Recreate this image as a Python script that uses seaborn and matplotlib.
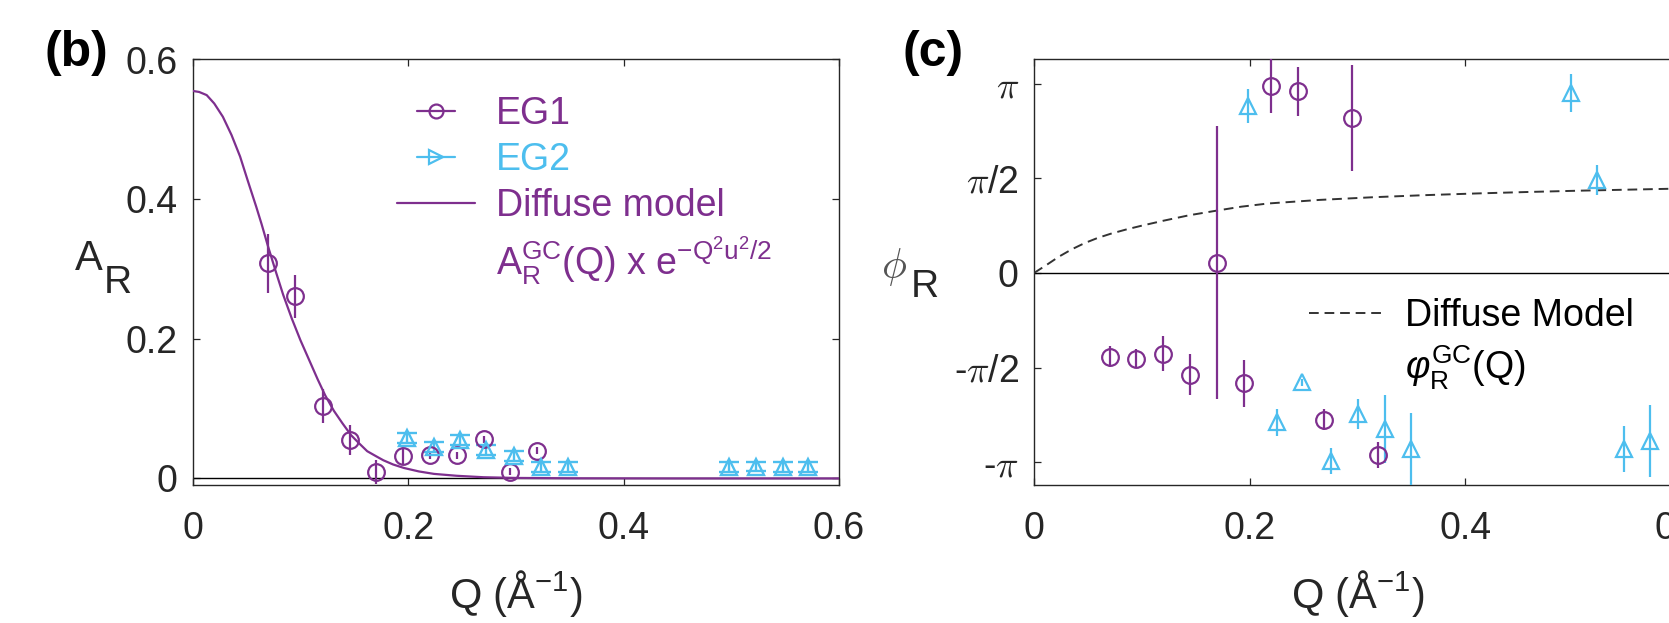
import matplotlib as mpl
mpl.use('Agg')
import matplotlib.pyplot as plt
import numpy as np
import seaborn as sns
from matplotlib.lines import Line2D
from matplotlib.legend_handler import HandlerLine2D

# ---- panel (b): amplitude A_R vs Q ----
q_eg1_b = [0.0701, 0.0952, 0.1209, 0.1456, 0.1706, 0.1955, 0.2202, 0.2450, 0.2704, 0.2950, 0.3197]
a_eg1 = [0.308, 0.261, 0.104, 0.055, 0.0095, 0.032, 0.0334, 0.0334, 0.056, 0.0096, 0.0397]
a_eg1_err = [0.042, 0.031, 0.024, 0.021, 0.017, 0.013, 0.006, 0.005, 0.005, 0.005, 0.005]

q_eg2_b = [0.1985, 0.2236, 0.2484, 0.2727, 0.2981, 0.3237, 0.3485, 0.4975, 0.5226, 0.5479, 0.5711]
a_eg2 = [0.0574, 0.0454, 0.0550, 0.0407, 0.0320, 0.0168, 0.0163, 0.0168, 0.0170, 0.0165, 0.0168]
a_eg2_err = [0.007, 0.007, 0.007, 0.007, 0.007, 0.007, 0.007, 0.007, 0.007, 0.007, 0.007]

q_model_b = [0, 0.006, 0.013, 0.020, 0.028, 0.036, 0.044, 0.051, 0.059, 0.064, 0.070, 0.077,
             0.084, 0.092, 0.100, 0.108, 0.116, 0.123, 0.131, 0.139, 0.147, 0.154, 0.162,
             0.170, 0.177, 0.186, 0.196, 0.210, 0.224, 0.245, 0.270, 0.300, 0.350, 0.450, 0.600]
a_model_b = [0.555, 0.5535, 0.549, 0.537, 0.518, 0.492, 0.461, 0.427, 0.389, 0.364, 0.332, 0.297,
             0.263, 0.229, 0.198, 0.170, 0.142, 0.119, 0.097, 0.079, 0.062, 0.051, 0.039,
             0.032, 0.026, 0.020, 0.015, 0.010, 0.0065, 0.0038, 0.0017, 0.0007, 0.0002, 0.0, 0.0]

# ---- panel (c): phase phi_R vs Q (values in units of pi) ----
q_eg1_c = [0.0705, 0.0950, 0.1196, 0.1449, 0.1700, 0.1947, 0.2197, 0.2446, 0.2690, 0.2949, 0.3190]
phi_eg1 = [-0.442, -0.454, -0.427, -0.537, 0.055, -0.583, 0.990, 0.960, -0.776, 0.819, -0.961]
phi_eg1_err = [0.055, 0.05, 0.093, 0.11, 0.72, 0.124, 0.145, 0.128, 0.055, 0.278, 0.07]

q_eg2_c = [0.1987, 0.2253, 0.2485, 0.2757, 0.3006, 0.3256, 0.3500, 0.4980, 0.5225, 0.5473, 0.5718]
phi_eg2 = [0.880, -0.790, -0.578, -0.993, -0.746, -0.825, -0.930, 0.951, 0.491, -0.931, -0.887]
phi_eg2_err = [0.09, 0.07, 0.02, 0.07, 0.08, 0.18, 0.19, 0.10, 0.08, 0.12, 0.19]

q_model_c = [0, 0.012, 0.023, 0.035, 0.047, 0.059, 0.071, 0.085, 0.100, 0.120, 0.144,
             0.168, 0.192, 0.217, 0.265, 0.314, 0.362, 0.410, 0.459, 0.508, 0.550, 0.600]
phi_model_c = [0, 0.044, 0.086, 0.125, 0.158, 0.185, 0.207, 0.229, 0.250, 0.276, 0.305,
               0.328, 0.350, 0.367, 0.386, 0.400, 0.411, 0.420, 0.428, 0.435, 0.440, 0.446]

q_ticks = [0, 0.2, 0.4, 0.6]
q_ticklabels = ['0', '0.2', '0.4', '0.6']
a_ticks = [0, 0.2, 0.4, 0.6]
a_ticklabels = ['0', '0.2', '0.4', '0.6']
phi_ticks_pi = [-1, -0.5, 0, 0.5, 1]
phi_ticklabels = [r'-$\pi$', r'-$\pi$/2', '0', r'$\pi$/2', r'$\pi$']

PURPLE = '#7E2F8E'
CYAN = '#4DBEEE'
TXT = '#262626'
W, H = 1669, 623


class ShortHandler(HandlerLine2D):
    # legend glyph only half as long as the line handle, centred
    def create_artists(self, legend, orig_handle, xdescent, ydescent, width, height, fontsize, trans):
        short = width * 0.48
        return super().create_artists(legend, orig_handle, xdescent - (width - short) / 2,
                                      ydescent, short, height, fontsize, trans)


def style_axes(ax):
    for s in ax.spines.values():
        s.set_color(TXT)
        s.set_linewidth(1.0)
        s.set_visible(True)
    ax.tick_params(direction='in', length=5, width=0.9, colors=TXT, labelsize=27,
                   top=True, right=True, bottom=True, left=True)
    ax.tick_params(axis='x', pad=19)
    ax.tick_params(axis='y', pad=11)


def main():
    sns.set_theme(style='white')
    plt.rcParams['font.family'] = ['Liberation Sans', 'DejaVu Sans']
    plt.rcParams['mathtext.fontset'] = 'custom'
    plt.rcParams['mathtext.rm'] = 'Liberation Sans'
    plt.rcParams['mathtext.it'] = 'Liberation Sans:italic'
    plt.rcParams['mathtext.bf'] = 'Liberation Sans:bold'

    fig = plt.figure(figsize=(W / 100, H / 100), dpi=100)
    bottom = (H - 484.5) / H
    height = 425.0 / H
    ax_b = fig.add_axes([192.7 / W, bottom, 646.3 / W, height])
    ax_c = fig.add_axes([1034.1 / W, bottom, 646.6 / W, height])

    # ---------- (b) ----------
    ax_b.axhline(0, color='black', lw=1.0, zorder=1)
    sns.lineplot(x=q_model_b, y=a_model_b, ax=ax_b, color=PURPLE, lw=1.6, zorder=3)
    ax_b.errorbar(q_eg1_b, a_eg1, yerr=a_eg1_err, fmt='o', color=PURPLE, mfc='none',
                  ms=12, mew=1.6, elinewidth=1.6, capsize=0, zorder=4)
    ax_b.errorbar(q_eg2_b, a_eg2, yerr=a_eg2_err, fmt='^', color=CYAN, mfc='none',
                  ms=11, mew=1.7, elinewidth=1.7, capsize=7, capthick=1.7, zorder=4)
    ax_b.set_xlim(0, 0.6)
    ax_b.set_ylim(-0.0087, 0.6)
    ax_b.set_xticks(q_ticks)
    ax_b.set_xticklabels(q_ticklabels)
    ax_b.set_yticks(a_ticks)
    ax_b.set_yticklabels(a_ticklabels)
    style_axes(ax_b)
    ax_b.set_xlabel(r'Q (Å$^{\mathregular{-1}}$)', fontsize=30, color=TXT, labelpad=15)
    ax_b.set_ylabel('')

    handles = [
        Line2D([], [], color=PURPLE, marker='o', mfc='none', ms=10, mew=1.6, lw=1.6),
        Line2D([], [], color=CYAN, marker='>', mfc='none', ms=10, mew=1.6, lw=1.6),
        Line2D([], [], color=PURPLE, lw=1.6),
        Line2D([], [], color='none'),
    ]
    labels = ['EG1', 'EG2', 'Diffuse model',
              r'$\mathregular{A_R^{GC}}$(Q) x e$^{\mathregular{-Q^2u^2/2}}$']
    leg = ax_b.legend(handles, labels, loc='upper left', bbox_to_anchor=(397 / W, 1 - 96 / H),
                      bbox_transform=fig.transFigure, frameon=False, fontsize=27,
                      handlelength=2.08, handletextpad=0.56, labelspacing=0.27,
                      borderpad=0, borderaxespad=0,
                      handler_map={handles[0]: ShortHandler(), handles[1]: ShortHandler()})
    for t, c in zip(leg.get_texts(), [PURPLE, CYAN, PURPLE, PURPLE]):
        t.set_color(c)

    # ---------- (c) ----------
    ax_c.axhline(0, color='black', lw=1.0, zorder=1)
    sns.lineplot(x=q_model_c, y=np.array(phi_model_c) * np.pi, ax=ax_c, color='#333333',
                 lw=1.4, linestyle=(0, (5, 3)), zorder=3)
    ax_c.errorbar(q_eg1_c, np.array(phi_eg1) * np.pi, yerr=np.array(phi_eg1_err) * np.pi, fmt='o',
                  color=PURPLE, mfc='none', ms=12, mew=1.6, elinewidth=1.6, capsize=0, zorder=4)
    ax_c.errorbar(q_eg2_c, np.array(phi_eg2) * np.pi, yerr=np.array(phi_eg2_err) * np.pi, fmt='^',
                  color=CYAN, mfc='none', ms=12, mew=1.6, elinewidth=1.6, capsize=0, zorder=4)
    ax_c.set_xlim(0, 0.6)
    ax_c.set_ylim(-1.118 * np.pi, 1.128 * np.pi)
    ax_c.set_xticks(q_ticks)
    ax_c.set_xticklabels(q_ticklabels)
    ax_c.set_yticks(np.array(phi_ticks_pi) * np.pi)
    ax_c.set_yticklabels(phi_ticklabels)
    for lab in ax_c.get_yticklabels():
        lab.set_math_fontfamily('cm')
    style_axes(ax_c)
    ax_c.set_xlabel(r'Q (Å$^{\mathregular{-1}}$)', fontsize=30, color=TXT, labelpad=15)
    ax_c.set_ylabel('')

    h_c = [Line2D([], [], color='#333333', lw=1.4, linestyle=(0, (5, 3))),
           Line2D([], [], color='none')]
    l_c = ['Diffuse Model', r'$\varphi_{\mathregular{R}}^{\mathregular{GC}}$(Q)']
    leg_c = ax_c.legend(h_c, l_c, loc='upper left', bbox_to_anchor=(1309 / W, 1 - 298 / H),
                        bbox_transform=fig.transFigure, frameon=False, fontsize=27,
                        handlelength=2.0, handletextpad=0.56, labelspacing=0.27,
                        borderpad=0, borderaxespad=0)
    for t in leg_c.get_texts():
        t.set_color('black')

    # y labels written as two pieces so the subscript keeps full size
    fig.text(89 / W, 1 - 270 / H, 'A', fontsize=30, color=TXT, ha='center', va='baseline')
    fig.text(118 / W, 1 - 293 / H, 'R', fontsize=28, color=TXT, ha='center', va='baseline')
    fig.text(894 / W, 1 - 278 / H, r'$\phi$', fontsize=30, color='#555555', ha='center',
             va='baseline', math_fontfamily='cm')
    fig.text(925 / W, 1 - 297 / H, 'R', fontsize=28, color=TXT, ha='center', va='baseline')

    # panel letters
    fig.text(76 / W, 1 - 53 / H, '(b)', fontsize=36, fontweight='bold', color='black',
             ha='center', va='center')
    fig.text(933 / W, 1 - 53 / H, '(c)', fontsize=36, fontweight='bold', color='black',
             ha='center', va='center')

    fig.savefig('out.png', dpi=100)


if __name__ == '__main__':
    main()
